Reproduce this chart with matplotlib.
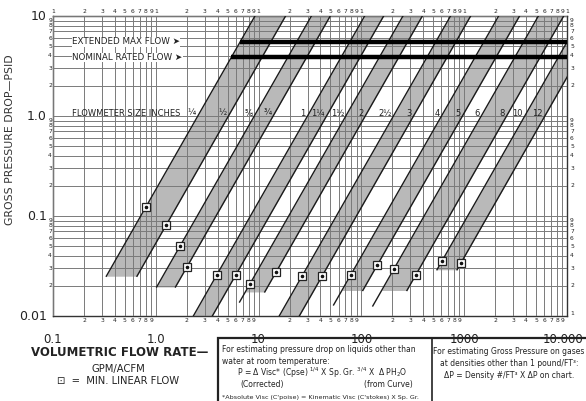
import numpy as np
import matplotlib
matplotlib.use("Agg")
import matplotlib.pyplot as plt
import matplotlib.transforms as mtransforms
from matplotlib.patches import Rectangle
from matplotlib.lines import Line2D

# flowmeter sizes (inches), one line each
sizes = ["¼", "½", "⅝", "¾", "1", "1¼", "1½", "2", "2½", "3", "4", "5", "6", "8", "10", "12"]
# min linear flow point on every size line (GPM/ACFM, PSID)
min_flow = [0.80, 1.26, 1.72, 2.01, 3.94, 6.03, 8.25, 14.8, 26.4, 41.4, 79.2, 142, 207, 340, 608, 931]
min_drop = [0.123, 0.081, 0.050, 0.031, 0.026, 0.026, 0.021, 0.0275, 0.025, 0.025, 0.026, 0.032, 0.0295, 0.026, 0.0355, 0.034]
# lowest pressure drop each line is drawn down to
line_end = [0.025, 0.025, 0.0195, 0.0195, 0.01, 0.01, 0.0138, 0.0174, 0.01, 0.01, 0.0129, 0.018, 0.0126, 0.018, 0.029, 0.029]
# shaded bands: pairs of size lines and the floor of the shading
band_pairs = [(0, 1), (2, 3), (4, 5), (6, 7), (8, 9), (10, 11), (12, 13), (14, 15)]
band_floor = [0.025, 0.0195, 0.01, 0.0174, 0.01, 0.018, 0.018, 0.029]
exponent = 1.8  # slope of dP vs flow on log-log
extended_max_drop = 5.5
nominal_rated_drop = 3.85
x_major = [0.1, 1, 10, 100, 1000, 10000]
x_major_labels = ["0.1", "1.0", "10", "100", "1000", "10.000"]
y_major = [10, 1, 0.1, 0.01]
y_major_labels = ["10", "1.0", "0.1", "0.01"]

txt = "#222222"


def flow_at(i, p):
    return min_flow[i] * (np.asarray(p) / min_drop[i]) ** (1.0 / exponent)


fig = plt.figure(figsize=(5.86, 4.01), dpi=100)
ax = fig.add_axes([53 / 586, 85 / 401, 514 / 586, 300 / 401])
ax.set_xscale("log")
ax.set_yscale("log")
ax.set_xlim(0.1, 10000)
ax.set_ylim(0.01, 10)
ax.xaxis.set_minor_locator(matplotlib.ticker.LogLocator(subs=range(2, 10), numticks=20))
ax.yaxis.set_minor_locator(matplotlib.ticker.LogLocator(subs=range(2, 10), numticks=20))
ax.set_axisbelow(False)
ax.grid(which="both", color="#7a7a7a", lw=0.7)
ax.tick_params(which="both", length=0, labelbottom=False, labelleft=False)
for s in ax.spines.values():
    s.set_color("#333333")
    s.set_linewidth(1.0)

# shaded bands
for (a, b), floor in zip(band_pairs, band_floor):
    p = np.geomspace(floor, 10, 50)
    ax.fill_betweenx(p, flow_at(a, p), flow_at(b, p), color="#b9b9b9", lw=0, zorder=1)

# size lines
for i in range(len(sizes)):
    p = np.geomspace(line_end[i], 12, 50)
    ax.plot(flow_at(i, p), p, color="#1a1a1a", lw=1.0, zorder=3)

# max / rated flow lines start on the smallest size line
ax.hlines(extended_max_drop, flow_at(0, extended_max_drop), 10000, color="black", lw=3.2, zorder=4)
ax.hlines(nominal_rated_drop, flow_at(0, nominal_rated_drop), 10000, color="black", lw=3.2, zorder=4)

# min linear flow markers
ax.plot(min_flow, min_drop, ls="none", marker="s", ms=5.5, mfc="white", mec="#222222", mew=0.9, zorder=5)
ax.plot(min_flow, min_drop, ls="none", marker="o", ms=1.6, color="#111111", zorder=6)

yt = mtransforms.blended_transform_factory(ax.transAxes, ax.transData)
xt = mtransforms.blended_transform_factory(ax.transData, ax.transAxes)
ax.text(0.037, extended_max_drop, "EXTENDED MAX FLOW ➤", transform=yt,
        va="center", ha="left", fontsize=6.3, color=txt, zorder=6,
        bbox=dict(fc="white", ec="none", pad=0.3))
ax.text(0.037, nominal_rated_drop, "NOMINAL RATED FLOW ➤", transform=yt,
        va="center", ha="left", fontsize=6.3, color=txt, zorder=6,
        bbox=dict(fc="white", ec="none", pad=0.3))
ax.text(0.037, 1.07, "FLOWMETER SIZE INCHES", transform=yt,
        va="center", ha="left", fontsize=6.0, color=txt, zorder=6)
for i, name in enumerate(sizes):
    ax.annotate(name, (flow_at(i, 1.07), 1.07), xytext=(-2.5, 0), textcoords="offset points",
                ha="right", va="center", fontsize=6.0, color=txt, zorder=6)

# tick labels drawn by hand like the printed chart
for d in range(-1, 4):
    for m in range(1, 10):
        q = m * 10.0 ** d
        ax.text(q, 1.008, str(m), transform=xt, ha="center", va="bottom", fontsize=4.3, color=txt)
        if m > 1:
            ax.text(q, -0.008, str(m), transform=xt, ha="center", va="top", fontsize=4.3, color=txt)
ax.text(10000, 1.008, "1", transform=xt, ha="center", va="bottom", fontsize=4.3, color=txt)
for q, lab in zip(x_major, x_major_labels):
    ha = "right" if q == x_major[-1] else "center"
    xoff = 12 if q == x_major[-1] else 0
    ax.annotate(lab, (q, 0), xycoords=xt, xytext=(xoff, -12), textcoords="offset points",
                ha=ha, va="top", fontsize=8.5, color=txt)
for d in range(-2, 1):
    for m in range(2, 10):
        p = m * 10.0 ** d
        ax.text(-0.002, p, str(m), transform=yt, ha="right", va="center", fontsize=4.3, color=txt)
        ax.text(1.006, p, str(m), transform=yt, ha="left", va="center", fontsize=4.3, color=txt)
ax.text(1.006, 0.0105, "1", transform=yt, ha="left", va="center", fontsize=4.3, color=txt)
for p, lab in zip(y_major, y_major_labels):
    ax.text(-0.012, p, lab, transform=yt, ha="right", va="center", fontsize=9, color=txt)

fig.text(10 / 586, 1 - 140 / 401, "GROSS PRESSURE DROP—PSID", rotation=90, ha="center", va="center",
         fontsize=7.8, color="#333333")

# bottom captions
fig.text(120 / 586, 1 - 353 / 401, "VOLUMETRIC FLOW RATE—", ha="center", va="center",
         fontsize=8.5, fontweight="bold", color=txt)
fig.text(118 / 586, 1 - 369 / 401, "GPM/ACFM", ha="center", va="center", fontsize=7.2, color=txt)
fig.text(118 / 586, 1 - 381 / 401, "⊡  =  MIN. LINEAR FLOW", ha="center", va="center", fontsize=7.2, color=txt)

fig.add_artist(Rectangle((218 / 586, -0.05), (620 - 218) / 586, (401 - 338) / 401 + 0.05,
                         transform=fig.transFigure, fill=False, lw=1.6, ec="#222222"))
fig.add_artist(Line2D([432 / 586, 432 / 586], [0, 1 - 338 / 401], transform=fig.transFigure,
                      lw=1.2, color="#222222"))
fs = 5.5
fig.text(222 / 586, 1 - 349 / 401, "For estimating pressure drop on liquids other than",
         ha="left", va="center", fontsize=fs, color=txt)
fig.text(222 / 586, 1 - 361 / 401, "water at room temperature:", ha="left", va="center", fontsize=fs, color=txt)
fig.text(237 / 586, 1 - 373 / 401,
         r"P = $\Delta$ Visc* (Cpse) $^{1/4}$ X Sp. Gr. $^{3/4}$ X  $\Delta$ PH$_2$O",
         ha="left", va="center", fontsize=fs, color=txt)
fig.text(262 / 586, 1 - 385 / 401, "(Corrected)", ha="center", va="center", fontsize=fs, color=txt)
fig.text(388 / 586, 1 - 385 / 401, "(from Curve)", ha="center", va="center", fontsize=fs, color=txt)
fig.text(222 / 586, 1 - 397 / 401, "*Absolute Visc (C'poise) = Kinematic Visc (C'stokes) X Sp. Gr.",
         ha="left", va="center", fontsize=4.6, color=txt)
fig.text(509 / 586, 1 - 352 / 401, "For estimating Gross Pressure on gases", ha="center", va="center", fontsize=fs, color=txt)
fig.text(509 / 586, 1 - 364 / 401, "at densities other than 1 pound/FT³:", ha="center", va="center", fontsize=fs, color=txt)
fig.text(509 / 586, 1 - 376 / 401, "ΔP = Density #/FT³ X ΔP on chart.", ha="center", va="center", fontsize=fs, color=txt)

fig.savefig("out.png", dpi=100)
